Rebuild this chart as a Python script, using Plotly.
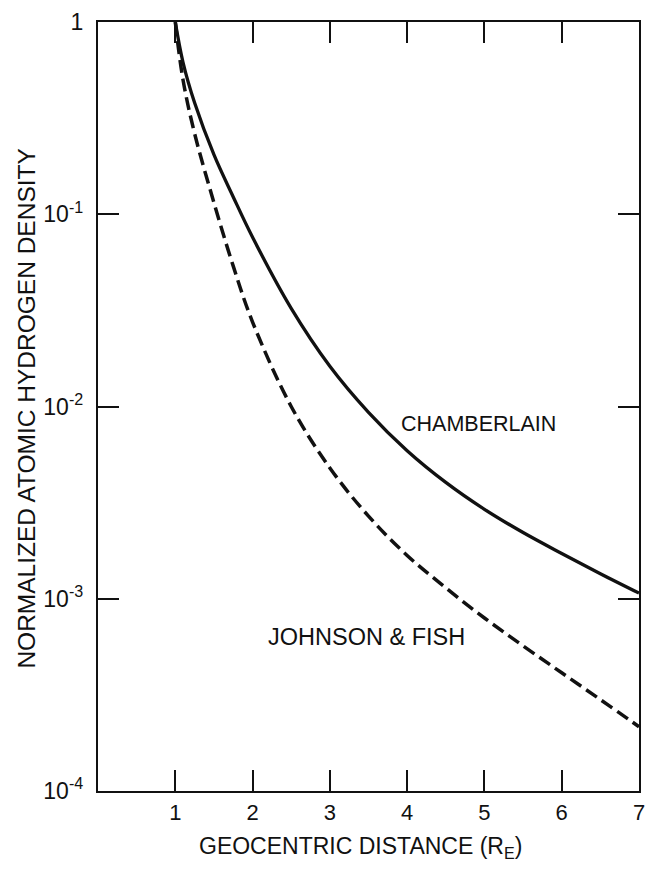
import plotly.graph_objects as go

# Geocentric distance (Earth radii)
distance = [1.0, 1.1, 1.25, 1.5, 1.75, 2.0, 2.5, 3.0, 3.5, 4.0, 4.5, 5.0, 5.5, 6.0, 6.5, 7.0]

# Normalized atomic hydrogen density
chamberlain = [1.0, 0.617, 0.380, 0.204, 0.123, 0.0759, 0.0324, 0.0162, 0.00933, 0.00589,
               0.00403, 0.00292, 0.00221, 0.00172, 0.00135, 0.00107]
johnson_fish = [1.0, 0.501, 0.263, 0.115, 0.0537, 0.0275, 0.0100, 0.00479, 0.00269, 0.00168,
                0.00114, 0.000794, 0.000569, 0.000412, 0.000299, 0.000216]

x_ticks = [1, 2, 3, 4, 5, 6, 7]
x_ticklabels = ["1", "2", "3", "4", "5", "6", "7"]
y_ticks = [1e-4, 1e-3, 1e-2, 1e-1, 1]
y_ticklabels = ["10<sup>-4</sup>", "10<sup>-3</sup>", "10<sup>-2</sup>", "10<sup>-1</sup>", "1"]

FONT = "Liberation Sans, Arial, sans-serif"
INK = "#111111"

fig = go.Figure()
fig.add_trace(go.Scatter(
    x=distance, y=chamberlain, mode="lines", name="CHAMBERLAIN",
    line=dict(color=INK, width=3.3, shape="spline", smoothing=1.0),
))
fig.add_trace(go.Scatter(
    x=distance, y=johnson_fish, mode="lines", name="JOHNSON & FISH",
    line=dict(color=INK, width=3.5, dash="13px,6px", shape="spline", smoothing=1.0),
))

fig.update_layout(
    width=654, height=870,
    margin=dict(l=98, r=9, t=17, b=79),
    paper_bgcolor="white", plot_bgcolor="white",
    showlegend=False,
    font=dict(family=FONT, color=INK, size=22),
    xaxis=dict(
        range=[0, 7], tickvals=x_ticks, ticktext=x_ticklabels,
        ticks="inside", ticklen=21, tickwidth=2.2, tickcolor=INK,
        showline=True, linewidth=2.4, linecolor=INK, mirror="ticks",
        showgrid=False, zeroline=False,
        tickfont=dict(size=22, family=FONT, color=INK),
        ticklabelstandoff=0,
    ),
    yaxis=dict(
        type="log", range=[-4, 0], tickvals=y_ticks, ticktext=y_ticklabels,
        ticks="inside", ticklen=21, tickwidth=2.2, tickcolor=INK,
        showline=True, linewidth=2.4, linecolor=INK, mirror="ticks",
        showgrid=False, zeroline=False,
        tickfont=dict(size=23, family=FONT, color=INK),
        ticklabelstandoff=8,
    ),
    annotations=[
        dict(text="CHAMBERLAIN", x=4.92, y=-2.09, xref="x", yref="y",
             showarrow=False, font=dict(size=21.5, family=FONT, color=INK)),
        dict(text="JOHNSON &amp; FISH", x=3.47, y=-3.20, xref="x", yref="y",
             showarrow=False, font=dict(size=23.5, family=FONT, color=INK)),
        dict(text="GEOCENTRIC DISTANCE (R<sub>E</sub>)", x=0.485, y=-0.074,
             xref="paper", yref="paper", xanchor="center", yanchor="middle",
             showarrow=False, font=dict(size=23, family=FONT, color=INK)),
        dict(text="NORMALIZED ATOMIC HYDROGEN DENSITY", x=-0.1316, y=0.497,
             xref="paper", yref="paper", xanchor="center", yanchor="middle",
             textangle=-90, showarrow=False, font=dict(size=24.5, family=FONT, color=INK)),
    ],
)

fig.write_html("out.html")
